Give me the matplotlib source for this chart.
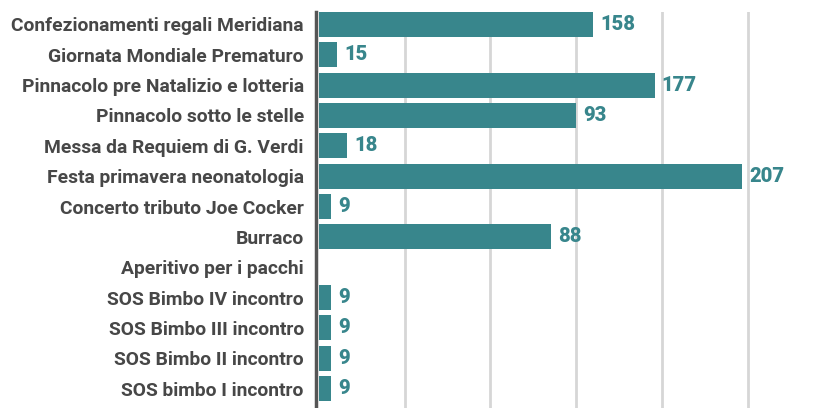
import matplotlib
matplotlib.use("Agg")
import matplotlib.pyplot as plt

categories = [
    "Confezionamenti regali Meridiana",
    "Giornata Mondiale Prematuro",
    "Pinnacolo pre Natalizio e lotteria",
    "Pinnacolo sotto le stelle",
    "Messa da Requiem di G. Verdi",
    "Festa primavera neonatologia",
    "Concerto tributo Joe Cocker",
    "Burraco",
    "Aperitivo per i pacchi",
    "SOS Bimbo IV incontro",
    "SOS Bimbo III incontro",
    "SOS Bimbo II incontro",
    "SOS bimbo I incontro",
]
# bar lengths as drawn (in grid units of 50)
bar_lengths = [160, 10.5, 196, 150, 16.5, 247, 7, 135.5, 0, 7, 7, 7, 7]
# value labels printed next to the bars
value_labels = ["158", "15", "177", "93", "18", "207", "9", "88", "", "9", "9", "9", "9"]
grid_ticks = [50, 100, 150, 200, 250]

teal = "#38868c"
label_color = "#474747"

fig = plt.figure(figsize=(8.29, 4.08), dpi=100)
W, H = 829, 408
left_px, right_px = 315.6, 829
top_px, bottom_px = 12, 408
ax = fig.add_axes([left_px / W, 1 - bottom_px / H, (right_px - left_px) / W, (bottom_px - top_px) / H])

y = list(range(len(categories)))
ax.barh(y, bar_lengths, height=0.82, color=teal, zorder=3)

ax.set_xlim(-2, 297.5)
ax.set_ylim(12.64, -0.41)

for t in grid_ticks:
    ax.axvline(t, color="#d6d6d6", lw=2, zorder=1)

for yi, (v, lab) in enumerate(zip(bar_lengths, value_labels)):
    if lab:
        ax.text(v + 4.0, yi, lab, va="center", ha="left", color=teal,
                fontsize=14.5, fontweight="black", family="Roboto", zorder=4)

ax.set_yticks(y)
ax.set_yticklabels(categories, fontsize=13.9, fontweight="bold", color=label_color, family="Roboto")
ax.tick_params(axis="y", length=0, pad=8.5)
ax.set_xticks([])

for s in ["top", "right", "bottom"]:
    ax.spines[s].set_visible(False)
ax.spines["left"].set_color("#555555")
ax.spines["left"].set_linewidth(2.5)
ax.spines["left"].set_zorder(5)

fig.savefig("out.png", dpi=100)
